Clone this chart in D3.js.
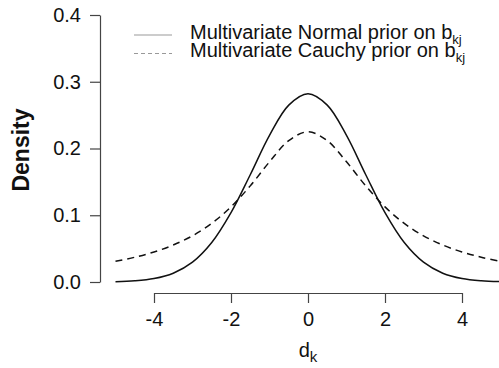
<!DOCTYPE html>
<html>
<head>
<meta charset="utf-8">
<script src="https://cdn.jsdelivr.net/npm/d3@7"></script>
<style>
  html, body { margin: 0; padding: 0; background: #fff; }
  svg { display: block; font-family: "Liberation Sans", Arial, sans-serif; }
</style>
</head>
<body>
<svg id="chart" width="499" height="368"></svg>
<script>
// ---- data ----
const xValues = [-5, -4.5, -4, -3.5, -3, -2.5, -2, -1.5, -1, -0.5, 0, 0.5, 1, 1.5, 2, 2.5, 3, 3.5, 4, 4.5, 5];
const normalDensity = [0.0005, 0.0018, 0.0052, 0.0132, 0.0297, 0.0591, 0.1038, 0.1607, 0.2197, 0.2650, 0.2821,
                       0.2650, 0.2197, 0.1607, 0.1038, 0.0591, 0.0297, 0.0132, 0.0052, 0.0018, 0.0005];
const cauchyDensity = [0.0310, 0.0371, 0.0450, 0.0554, 0.0692, 0.0878, 0.1125, 0.1440, 0.1800, 0.2118, 0.2250,
                       0.2118, 0.1800, 0.1440, 0.1125, 0.0878, 0.0692, 0.0554, 0.0450, 0.0371, 0.0310];
const xTicks = [-4, -2, 0, 2, 4];
const yTicks = [0.0, 0.1, 0.2, 0.3, 0.4];
const legendLabels = ["Multivariate Normal prior on b", "Multivariate Cauchy prior on b"];
const legendSub = "kj";

const svg = d3.select("#chart");
const x = d3.scaleLinear().domain([-5, 5]).range([115.5, 500.5]);
const y = d3.scaleLinear().domain([0, 0.4]).range([282, 15]);
const axisColor = "#444";
const textColor = "#111";

// y axis
const yAxis = svg.append("g")
  .attr("transform", "translate(100,0)")
  .call(d3.axisLeft(y).tickValues(yTicks).tickFormat(d3.format(".1f")).tickSize(10).tickSizeOuter(0).tickPadding(9));
// x axis (line only spans the tick range, R style)
const xAxisScale = x.copy().domain([-4, 4]).range([x(-4), x(4)]);
const xAxis = svg.append("g")
  .attr("transform", "translate(0,293)")
  .call(d3.axisBottom(xAxisScale).tickValues(xTicks).tickFormat(d3.format("d")).tickSize(10).tickSizeOuter(0).tickPadding(9));

[yAxis, xAxis].forEach(g => {
  g.selectAll("path.domain").attr("stroke", axisColor).attr("stroke-width", 1.2);
  g.selectAll(".tick line").attr("stroke", axisColor).attr("stroke-width", 1.2);
  g.selectAll(".tick text").attr("fill", textColor).style("font-size", "20px")
    .style("font-family", "'Liberation Sans', Arial, sans-serif");
});
xAxis.selectAll(".tick text").text(d => d < 0 ? "-" + Math.abs(d) : d);

// axis titles
svg.append("text")
  .attr("transform", "translate(29,150) rotate(-90)")
  .attr("text-anchor", "middle")
  .attr("fill", textColor)
  .style("font-size", "23px").style("font-weight", "bold")
  .text("Density");

const xt = svg.append("text")
  .attr("x", 308).attr("y", 357)
  .attr("text-anchor", "middle")
  .attr("fill", textColor)
  .style("font-size", "20px");
xt.append("tspan").text("d");
xt.append("tspan").attr("dy", 5).style("font-size", "15px").text("k");

// curves
const line = d3.line()
  .x((d, i) => x(xValues[i]))
  .y(d => y(d))
  .curve(d3.curveCatmullRom.alpha(0.5));

svg.append("path")
  .datum(cauchyDensity)
  .attr("d", line)
  .attr("fill", "none")
  .attr("stroke", "#111")
  .attr("stroke-width", 1.5)
  .attr("stroke-dasharray", "7,5");

svg.append("path")
  .datum(normalDensity)
  .attr("d", line)
  .attr("fill", "none")
  .attr("stroke", "#111")
  .attr("stroke-width", 1.5);

// legend
const legendLineY = [35, 53.5];
const legendTextY = [39, 57];
const dashes = [null, "4,3"];
legendLabels.forEach((lab, i) => {
  svg.append("line")
    .attr("x1", 134).attr("x2", 172)
    .attr("y1", legendLineY[i]).attr("y2", legendLineY[i])
    .attr("stroke", "#999").attr("stroke-width", 1.2)
    .attr("stroke-dasharray", dashes[i]);
  const t = svg.append("text")
    .attr("x", 190).attr("y", legendTextY[i])
    .attr("fill", textColor)
    .style("font-size", "20px");
  t.append("tspan").text(lab);
  t.append("tspan").attr("dy", 5).style("font-size", "13px").text(legendSub);
});
</script>
</body>
</html>
